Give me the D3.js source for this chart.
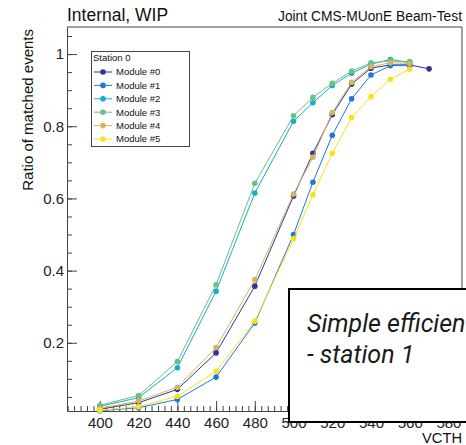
<!doctype html>
<html lang="en">
<head>
<meta charset="utf-8">
<title>Station 0 - ratio of matched events vs VCTH</title>
<script src="https://d3js.org/d3.v7.min.js"></script>
<style>
  body { margin: 0; background: #fff; }
  text { font-family: "Liberation Sans", Arial, Helvetica, sans-serif; }
  .note { font-family: Roboto, sans-serif; font-style: italic; }
</style>
</head>
<body>
<div id="chart"></div>
<script>
  // VCTH scan points (module #0 has one extra point at 570)
  var vcth = [400, 420, 440, 460, 480, 500, 510, 520, 530, 540, 550, 560];
  var vcth0 = [400, 420, 440, 460, 480, 500, 510, 520, 530, 540, 550, 560, 570];

  // ratio of matched events
  var mod0 = [0.016, 0.034, 0.071, 0.172, 0.357, 0.607, 0.725, 0.832, 0.917, 0.961, 0.970, 0.970, 0.959];
  var mod1 = [0.012, 0.020, 0.043, 0.105, 0.255, 0.500, 0.645, 0.775, 0.876, 0.942, 0.968, 0.968];
  var mod2 = [0.024, 0.048, 0.131, 0.343, 0.615, 0.814, 0.865, 0.913, 0.947, 0.972, 0.985, 0.976];
  var mod3 = [0.027, 0.054, 0.148, 0.361, 0.642, 0.829, 0.880, 0.919, 0.953, 0.976, 0.981, 0.979];
  var mod4 = [0.018, 0.039, 0.077, 0.187, 0.375, 0.612, 0.714, 0.838, 0.922, 0.965, 0.976, 0.974];
  var mod5 = [0.013, 0.023, 0.052, 0.121, 0.260, 0.488, 0.610, 0.725, 0.824, 0.882, 0.930, 0.958];

  var moduleNames = ["Module #0", "Module #1", "Module #2", "Module #3", "Module #4", "Module #5"];
  var moduleColors = ["#2f3597", "#1f78d9", "#17adc4", "#6cbf87", "#d4b65a", "#f6e41a"];

  var xTicks = [400, 420, 440, 460, 480, 500, 520, 540, 560, 580];
  var yTicks = [0.2, 0.4, 0.6, 0.8, 1];

  var series = [
    {x: vcth0, y: mod0}, {x: vcth, y: mod1}, {x: vcth, y: mod2},
    {x: vcth, y: mod3}, {x: vcth, y: mod4}, {x: vcth, y: mod5}
  ];

  // frame (note: "top" is a reserved window global, so use a margin object)
  var W = 466, H = 445;
  var frame = {left: 67, right: 462, top: 27, bottom: 411};

  var svg = d3.select('#chart').append('svg')
    .attr('width', W)
    .attr('height', H);

  svg.append('rect').attr('width', W).attr('height', H).attr('fill', '#fff');

  var x = d3.scaleLinear().domain([383, 587]).range([frame.left, frame.right]);
  var y = d3.scaleLinear().domain([0.011, 1.075]).range([frame.bottom, frame.top]);

  // minor ticks
  var xMinor = d3.range(-5, 57).map(function(i) { return 400 + i * 20 / 6; })
    .filter(function(v) { return v > 383 && v < 587; });
  var yMinor = d3.range(1, 22).map(function(i) { return i * 0.05; });

  svg.append('g')
    .attr('transform', 'translate(0,' + frame.bottom + ')')
    .call(d3.axisBottom(x).tickValues(xMinor).tickSize(-5).tickFormat(''))
    .call(function(g) { g.select('.domain').remove(); });

  svg.append('g')
    .attr('transform', 'translate(' + frame.left + ',0)')
    .call(d3.axisLeft(y).tickValues(yMinor).tickSize(-5).tickFormat(''))
    .call(function(g) { g.select('.domain').remove(); });

  // major ticks + labels
  svg.append('g')
    .attr('transform', 'translate(0,' + frame.bottom + ')')
    .call(d3.axisBottom(x).tickValues(xTicks).tickSizeInner(-10).tickSizeOuter(0).tickPadding(6));

  svg.append('g')
    .attr('transform', 'translate(' + frame.left + ',0)')
    .call(d3.axisLeft(y).tickValues(yTicks).tickSizeInner(-10).tickSizeOuter(0).tickPadding(3)
      .tickFormat(function(d) { return d === 1 ? '1' : d3.format('.1f')(d); }));

  svg.selectAll('.tick text')
    .attr('font-family', '"Liberation Sans", Arial, sans-serif')
    .attr('font-size', '15px')
    .attr('fill', '#222');
  svg.selectAll('.tick line').attr('stroke', '#444');
  svg.selectAll('.domain').attr('stroke', '#444');

  // top and right frame lines
  svg.append('line')
    .attr('x1', frame.left).attr('x2', frame.right).attr('y1', frame.top).attr('y2', frame.top)
    .attr('stroke', '#444');
  svg.append('line')
    .attr('x1', frame.right).attr('x2', frame.right).attr('y1', frame.top).attr('y2', frame.bottom)
    .attr('stroke', '#444');

  // curves
  var line = d3.line()
    .x(function(d) { return x(d[0]); })
    .y(function(d) { return y(d[1]); });

  series.forEach(function(s, i) {
    var pts = s.x.map(function(v, j) { return [v, s.y[j]]; });
    svg.append('path')
      .datum(pts)
      .attr('d', line)
      .attr('fill', 'none')
      .attr('stroke', moduleColors[i])
      .attr('stroke-width', 1);
    svg.append('g').selectAll('circle')
      .data(pts)
      .enter().append('circle')
      .attr('cx', function(d) { return x(d[0]); })
      .attr('cy', function(d) { return y(d[1]); })
      .attr('r', 2.8)
      .attr('fill', moduleColors[i]);
  });

  // titles
  svg.append('text')
    .attr('x', 67).attr('y', 21)
    .attr('font-size', '17.5px')
    .attr('fill', '#111')
    .text('Internal, WIP');

  svg.append('text')
    .attr('x', 462).attr('y', 21)
    .attr('text-anchor', 'end')
    .attr('font-size', '13.8px')
    .attr('fill', '#111')
    .text('Joint CMS-MUonE Beam-Test');

  svg.append('text')
    .attr('transform', 'translate(33,29) rotate(-90)')
    .attr('text-anchor', 'end')
    .attr('font-size', '15px')
    .attr('fill', '#111')
    .text('Ratio of matched events');

  svg.append('text')
    .attr('x', 462).attr('y', 443)
    .attr('text-anchor', 'end')
    .attr('font-size', '14.7px')
    .attr('fill', '#111')
    .text('VCTH');

  // legend
  var leg = svg.append('g');
  leg.append('rect')
    .attr('x', 91.5).attr('y', 51.5).attr('width', 98).attr('height', 95)
    .attr('fill', '#fff').attr('stroke', '#444');
  leg.append('text')
    .attr('x', 93).attr('y', 60.5)
    .attr('font-size', '9.5px')
    .attr('fill', '#111')
    .text('Station 0');
  moduleNames.forEach(function(name, i) {
    var ly = 72 + i * 13.4;
    leg.append('line')
      .attr('x1', 94).attr('x2', 112).attr('y1', ly).attr('y2', ly)
      .attr('stroke', moduleColors[i]);
    leg.append('circle')
      .attr('cx', 103).attr('cy', ly).attr('r', 2.8)
      .attr('fill', moduleColors[i]);
    leg.append('text')
      .attr('x', 116).attr('y', ly + 3.4)
      .attr('font-size', '9.5px')
      .attr('fill', '#111')
      .text(name);
  });

  // overlaid note box (covers the lower right of the plot)
  svg.append('rect')
    .attr('x', 289).attr('y', 289).attr('width', 200).attr('height', 133)
    .attr('fill', '#fff').attr('stroke', '#000').attr('stroke-width', 2);
  svg.append('text')
    .attr('class', 'note')
    .attr('x', 307).attr('y', 332)
    .attr('font-size', '25px')
    .attr('fill', '#1a1a1a')
    .text('Simple efficiency');
  svg.append('text')
    .attr('class', 'note')
    .attr('x', 307).attr('y', 363)
    .attr('font-size', '25px')
    .attr('fill', '#1a1a1a')
    .text('- station 1');
</script>
</body>
</html>
